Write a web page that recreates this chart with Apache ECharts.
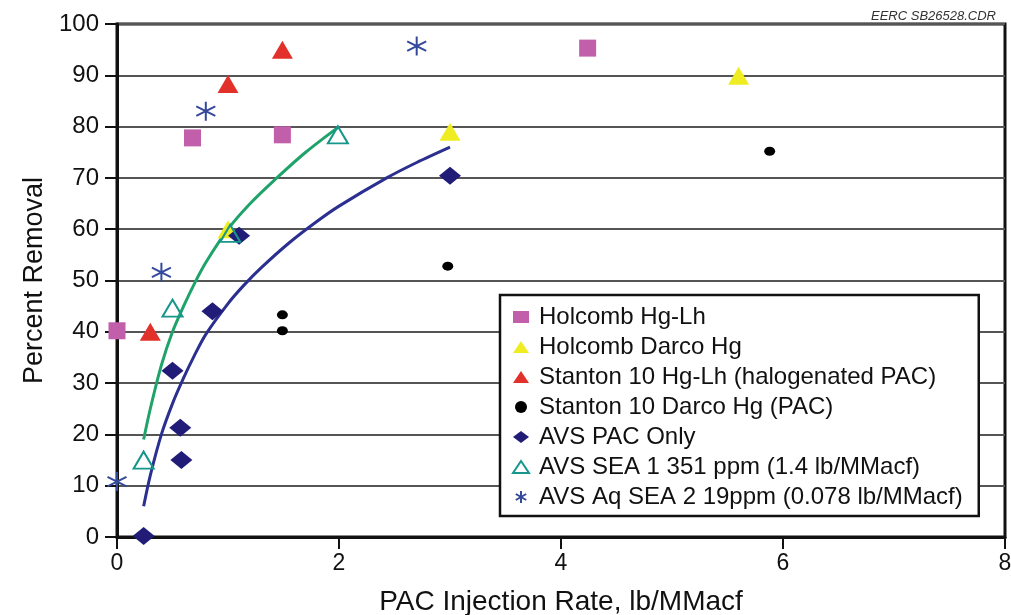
<!DOCTYPE html>
<html><head><meta charset="utf-8">
<script src="https://cdn.jsdelivr.net/npm/echarts@6/dist/echarts.min.js"></script>
<style>html,body{margin:0;padding:0;background:#fff}#c{width:1011px;height:615px}</style>
</head><body><div id="c"></div>
<script>
// ---- data (x = PAC injection rate lb/MMacf, y = percent removal) ----
const xTicks = [0, 2, 4, 6, 8];
const yTicks = [0, 10, 20, 30, 40, 50, 60, 70, 80, 90, 100];
const holcombHgLh   = [[0, 40.2], [0.68, 77.8], [1.49, 78.4], [4.24, 95.3]];
const holcombDarco  = [[1.0, 60.0], [3.0, 79.0], [5.6, 89.9]];
const stantonHgLh   = [[0.3, 40.0], [1.0, 88.3], [1.49, 95.0]];
const stantonDarco  = [[1.49, 43.3], [1.49, 40.2], [2.98, 52.8], [5.88, 75.2]];
const avsPacOnly    = [[0.24, 0.2], [0.58, 15.0], [0.57, 21.3], [0.5, 32.4], [0.86, 44.0], [1.1, 58.7], [3.0, 70.4]];
const avsSea1       = [[0.24, 15.0], [0.5, 44.6], [1.02, 59.2], [1.99, 78.4]];
const avsAqSea2     = [[0, 10.8], [0.4, 51.6], [0.8, 83.0], [2.7, 95.7]];
// trend curves
const greenCurve = [[0.24, 19], [0.3, 25], [0.4, 33.5], [0.5, 40], [0.6, 45], [0.7, 49.5], [0.8, 53.5], [1.0, 60], [1.2, 65], [1.44, 70], [1.7, 75], [2.0, 80]];
const blueCurve  = [[0.24, 6], [0.3, 12], [0.4, 20], [0.5, 26], [0.6, 31], [0.7, 35.5], [0.8, 39.5], [1.0, 45.5], [1.14, 49], [1.3, 52.5], [1.56, 57.5], [1.8, 61.5], [2.0, 64.5], [2.43, 70], [2.7, 73], [3.0, 76]];
const names = ['Holcomb Hg-Lh', 'Holcomb Darco Hg', 'Stanton 10 Hg-Lh (halogenated PAC)', 'Stanton 10 Darco Hg (PAC)', 'AVS PAC Only', 'AVS SEA 1 351 ppm (1.4 lb/MMacf)', 'AVS Aq SEA 2 19ppm (0.078 lb/MMacf)'];

const FONT = 'Liberation Sans, Arial, Helvetica, sans-serif';
const star = 'path://M0,-10L0,10M-8.66,-5L8.66,5M-8.66,5L8.66,-5';

const chart = echarts.init(document.getElementById('c'), null, {renderer: 'canvas'});
chart.setOption({
  animation: false,
  backgroundColor: '#fff',
  textStyle: {fontFamily: FONT},
  title: {text: 'EERC SB26528.CDR', right: 10, top: 5,
    textStyle: {fontSize: 13, fontStyle: 'italic', fontWeight: 'normal', color: '#333', fontFamily: FONT}},
  grid: {left: 117, right: 6, top: 24, bottom: 78, containLabel: false, outerBoundsMode: 'none',
    show: true, borderColor: '#111', borderWidth: 3, backgroundColor: 'transparent'},
  legend: {
    orient: 'vertical', left: 500, top: 295,
    backgroundColor: '#fff', borderColor: '#111', borderWidth: 2.5,
    padding: [10, 16, 7, 12], itemGap: 6, itemWidth: 16, itemHeight: 12,
    textStyle: {fontSize: 24, color: '#111', fontFamily: FONT, padding: [0, 0, 0, 5]},
    data: names
  },
  xAxis: {
    type: 'value', min: 0, max: 8, interval: 2,
    name: 'PAC Injection Rate, lb/MMacf', nameLocation: 'middle', nameGap: 51,
    nameTextStyle: {fontSize: 28, color: '#111', fontFamily: FONT},
    axisLine: {show: true, onZero: false, lineStyle: {color: '#111', width: 3}},
    axisTick: {show: true, inside: false, length: 12, lineStyle: {color: '#111', width: 2}},
    axisLabel: {fontSize: 23, color: '#111', margin: 15, fontFamily: FONT, formatter: v => xTicks.includes(v) ? String(v) : ''},
    splitLine: {show: false}
  },
  yAxis: {
    type: 'value', min: 0, max: 100, interval: 10,
    name: 'Percent Removal', nameLocation: 'middle', nameGap: 68,
    nameTextStyle: {fontSize: 27, color: '#111', fontFamily: FONT},
    axisLine: {show: true, onZero: false, lineStyle: {color: '#111', width: 3}},
    axisTick: {show: true, inside: false, length: 12, lineStyle: {color: '#111', width: 2}},
    axisLabel: {fontSize: 24, color: '#111', margin: 18, fontFamily: FONT, formatter: v => yTicks.includes(v) ? String(v) : ''},
    splitLine: {show: true, lineStyle: {color: '#555', width: 2}}
  },
  series: [
    {name: 'greenFit', type: 'line', data: greenCurve, smooth: 0.3, symbol: 'none', lineStyle: {color: '#1fa36a', width: 3}, z: 1, silent: true},
    {name: 'blueFit', type: 'line', data: blueCurve, smooth: 0.3, symbol: 'none', lineStyle: {color: '#2b2f8f', width: 3}, z: 1, silent: true},
    {name: names[0], type: 'scatter', data: holcombHgLh, symbol: 'rect', symbolSize: 17, itemStyle: {color: '#c25fab', opacity: 1}, z: 3},
    {name: names[1], type: 'scatter', data: holcombDarco, symbol: 'triangle', symbolSize: [21, 18], itemStyle: {color: '#f0ec22', opacity: 1}, z: 3},
    {name: names[2], type: 'scatter', data: stantonHgLh, symbol: 'triangle', symbolSize: [21, 18], itemStyle: {color: '#e2302a', opacity: 1}, z: 3},
    {name: names[3], type: 'scatter', data: stantonDarco, symbol: 'circle', symbolSize: [11, 9], itemStyle: {color: '#000', opacity: 1}, z: 3},
    {name: names[4], type: 'scatter', data: avsPacOnly, symbol: 'diamond', symbolSize: [22, 18], itemStyle: {color: '#201c78', opacity: 1}, z: 3},
    {name: names[5], type: 'scatter', data: avsSea1, symbol: 'triangle', symbolSize: [20, 17], itemStyle: {color: 'rgba(255,255,255,0)', borderColor: '#17968c', borderWidth: 2, opacity: 1}, z: 4},
    {name: names[6], type: 'scatter', data: avsAqSea2, symbol: star, symbolSize: 19, itemStyle: {color: 'rgba(255,255,255,0)', borderColor: '#34499c', borderWidth: 2, opacity: 1}, z: 4}
  ]
});
</script></body></html>
